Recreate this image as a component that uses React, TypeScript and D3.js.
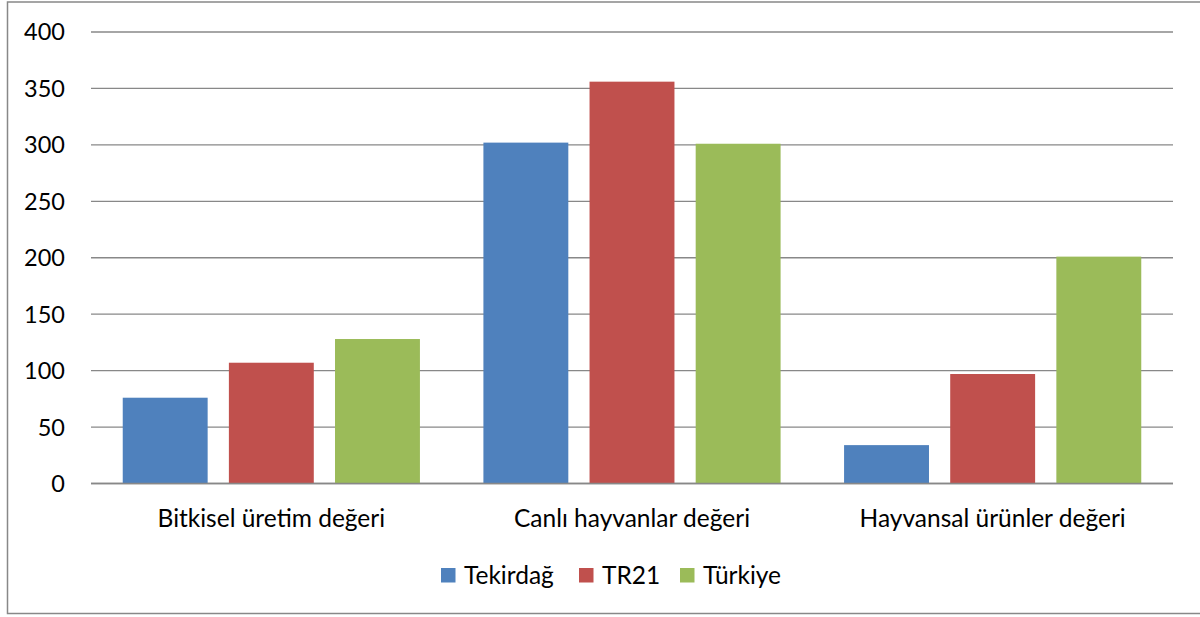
import React, { useEffect, useRef } from 'react';
import * as d3 from 'd3';

const categories = ['Bitkisel üretim değeri', 'Canlı hayvanlar değeri', 'Hayvansal ürünler değeri'];
const seriesNames = ['Tekirdağ', 'TR21', 'Türkiye'];
const tekirdag = [76, 302, 34];
const tr21 = [107, 356, 97];
const turkiye = [128, 301, 201];
const colors = ['#4F81BD', '#C0504D', '#9BBB59'];
const yTicks = [0, 50, 100, 150, 200, 250, 300, 350, 400];

const width = 1200;
const height = 617;

const App = () => {
  const ref = useRef<SVGSVGElement>(null);

  useEffect(() => {
    document.body.style.margin = '0';
    const svg = d3.select(ref.current);
    svg.selectAll('*').remove();

    const font = 'Lato, "Open Sans", sans-serif';
    const left = 91;
    const right = 1173;
    const top = 32;
    const bottom = 483.5;

    // chart frame
    svg
      .append('rect')
      .attr('x', 7.5)
      .attr('y', 2)
      .attr('width', 1200)
      .attr('height', 611.5)
      .attr('fill', '#fff')
      .attr('stroke', '#888')
      .attr('stroke-width', 1.5);

    const y = d3.scaleLinear().domain([0, 400]).range([bottom, top]);
    const x0 = d3.scaleBand().domain(categories).range([left, right]).paddingInner(0).paddingOuter(0);
    const groupPad = x0.bandwidth() * 0.088;
    const x1 = d3
      .scaleBand()
      .domain(seriesNames)
      .range([groupPad, x0.bandwidth() - groupPad])
      .paddingInner(0.2);

    // gridlines
    svg
      .append('g')
      .selectAll('line')
      .data(yTicks)
      .enter()
      .append('line')
      .attr('x1', left)
      .attr('x2', right)
      .attr('y1', d => y(d))
      .attr('y2', d => y(d))
      .attr('stroke', '#888')
      .attr('stroke-width', 1.3);

    // y labels
    svg
      .append('g')
      .selectAll('text')
      .data(yTicks)
      .enter()
      .append('text')
      .attr('x', 65)
      .attr('y', d => y(d))
      .attr('dy', '0.36em')
      .attr('text-anchor', 'end')
      .style('font-family', font)
      .style('font-size', '23.5px')
      .attr('fill', '#000')
      .text(d => d);

    const series = [tekirdag, tr21, turkiye];
    const rows = categories.flatMap((c, i) =>
      seriesNames.map((s, j) => ({ cat: c, name: s, value: series[j][i], color: colors[j] }))
    );

    svg
      .append('g')
      .selectAll('rect')
      .data(rows)
      .enter()
      .append('rect')
      .attr('x', d => (x0(d.cat) as number) + (x1(d.name) as number))
      .attr('width', x1.bandwidth())
      .attr('y', d => y(d.value))
      .attr('height', d => y(0) - y(d.value))
      .attr('fill', d => d.color);

    // baseline on top of bars
    svg
      .append('line')
      .attr('x1', left)
      .attr('x2', right)
      .attr('y1', y(0))
      .attr('y2', y(0))
      .attr('stroke', '#888')
      .attr('stroke-width', 1.5);

    // category labels
    svg
      .append('g')
      .selectAll('text')
      .data(categories)
      .enter()
      .append('text')
      .attr('x', d => (x0(d) as number) + x0.bandwidth() / 2)
      .attr('y', 527)
      .attr('text-anchor', 'middle')
      .style('font-family', font)
      .style('font-size', '24.5px')
      .attr('fill', '#000')
      .text(d => d);

    // legend
    const legendX = [441, 579, 680];
    const legend = svg
      .append('g')
      .selectAll('g')
      .data(seriesNames)
      .enter()
      .append('g')
      .attr('transform', (d, i) => `translate(${legendX[i]}, 568)`);
    legend
      .append('rect')
      .attr('width', 14.5)
      .attr('height', 14.5)
      .attr('fill', (d, i) => colors[i]);
    legend
      .append('text')
      .attr('x', 23)
      .attr('y', 15.5)
      .style('font-family', font)
      .style('font-size', '24.5px')
      .attr('fill', '#000')
      .text(d => d);
  }, []);

  return <svg ref={ref} width={width} height={height} style={{ display: 'block' }}></svg>;
};

export default App;
